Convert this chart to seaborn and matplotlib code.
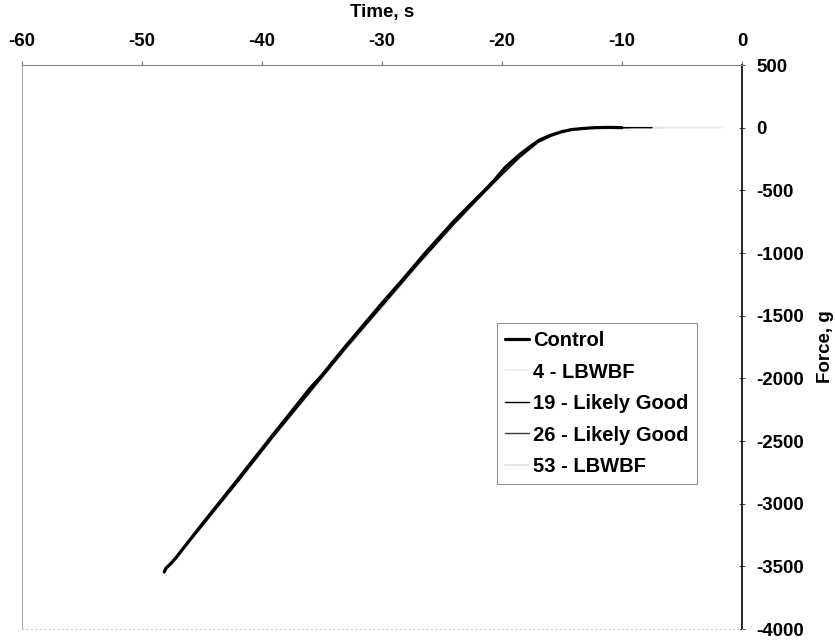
import matplotlib
matplotlib.use("Agg")
import matplotlib.pyplot as plt
import seaborn as sns
import pandas as pd

sns.set_style("white")
plt.rcParams['font.family'] = ['Liberation Sans', 'DejaVu Sans']
plt.rcParams['font.weight'] = 'bold'
plt.rcParams['text.color'] = 'black'
plt.rcParams['axes.labelcolor'] = 'black'
plt.rcParams['xtick.color'] = 'black'
plt.rcParams['ytick.color'] = 'black'

# ---- data ----
control_t = [-48.15, -48.0, -47.6, -47.2, -45.0, -42.0, -39.0, -36.0, -35.0, -34.2, -33.0, -30.0,
             -28.3, -26.4, -24.0, -22.5, -21.5, -20.6, -19.75, -18.5, -17.5, -16.9, -16.0, -15.0,
             -14.2, -13.2, -12.25, -11.0, -10.0]
control_f = [-3545, -3515, -3478, -3435, -3165, -2805, -2440, -2080, -1975, -1880, -1740, -1400,
             -1215, -1000, -745, -600, -505, -415, -318, -212, -140, -100, -62, -32,
             -15, -6, 0, 2, 0]

s4_t = [-47.6, -45.0, -42.0, -39.0, -36.0, -33.0, -30.0, -27.0, -24.0, -21.0, -19.0, -17.0,
        -15.0, -13.0, -11.0, -8.0, -5.0, -1.7]
s4_f = [-3490, -3190, -2835, -2470, -2120, -1775, -1440, -1110, -780, -470, -285, -125,
        -35, -4, 0, 0, 0, 0]

s19_t = [-47.8, -45.0, -42.0, -39.0, -36.0, -33.0, -30.0, -27.0, -24.0, -22.0, -20.0, -18.5,
         -17.0, -15.5, -14.0, -12.5, -11.0, -9.5, -7.5]
s19_f = [-3500, -3180, -2825, -2460, -2110, -1760, -1425, -1090, -770, -570, -375, -235,
         -118, -48, -12, -2, 0, 0, 0]

s26_t = [-47.5, -45.0, -42.0, -39.0, -36.0, -33.0, -30.0, -27.0, -24.0, -22.0, -20.0, -18.5,
         -17.0, -15.5, -14.0, -12.5, -11.0, -9.4]
s26_f = [-3470, -3175, -2820, -2450, -2100, -1755, -1420, -1085, -760, -560, -365, -228,
         -112, -45, -10, -1, 0, 0]

s53_t = [-47.4, -45.0, -42.0, -39.0, -36.0, -33.0, -30.0, -27.0, -24.0, -21.0, -19.0, -17.0,
         -15.0, -13.0, -11.0, -9.0, -6.5]
s53_f = [-3460, -3170, -2815, -2450, -2095, -1750, -1410, -1080, -755, -455, -275, -118,
         -30, -3, 0, 0, 0]

labels = ["Control", "4 - LBWBF", "19 - Likely Good", "26 - Likely Good", "53 - LBWBF"]
xticks = [-60, -50, -40, -30, -20, -10, 0]
yticks = [500, 0, -500, -1000, -1500, -2000, -2500, -3000, -3500, -4000]

series = [
    (s4_t, s4_f, labels[1], "#ececec", 1.2),
    (s53_t, s53_f, labels[4], "#e0e0e0", 1.2),
    (s26_t, s26_f, labels[3], "#3a3a3a", 1.0),
    (s19_t, s19_f, labels[2], "#000000", 1.0),
    (control_t, control_f, labels[0], "#000000", 2.3),
]

fig = plt.figure(figsize=(8.35, 6.41), dpi=100)
ax = fig.add_axes([22/835, 1-629/641, 720/835, 564/641])

for t, f, lab, col, lw in series:
    df = pd.DataFrame({"t": t, "f": f})
    sns.lineplot(data=df, x="t", y="f", ax=ax, color=col, linewidth=lw,
                 sort=False, estimator=None, label=lab)

ax.set_xlim(-60, 0)
ax.set_ylim(-4000, 500)
ax.set_xticks(xticks)
ax.set_yticks(yticks)
ax.set_xticklabels([str(v) for v in xticks])
ax.set_yticklabels([str(v) for v in yticks])

ax.xaxis.tick_top()
ax.yaxis.tick_right()
ax.tick_params(axis='x', direction='out', length=3, width=0.8, color='#777777',
               labelcolor='black', pad=8, labelsize=13.5)
ax.tick_params(axis='y', direction='inout', length=5, width=0.8, color='#555555',
               labelcolor='black', pad=8, labelsize=13.5)
for lab in ax.get_xticklabels() + ax.get_yticklabels():
    lab.set_fontweight('bold')

for side in ['top', 'right', 'left', 'bottom']:
    ax.spines[side].set_visible(True)
ax.spines['right'].set_color('black')
ax.spines['right'].set_linewidth(1.2)
ax.spines['top'].set_color('#888888')
ax.spines['top'].set_linewidth(0.8)
ax.spines['left'].set_color('#aaaaaa')
ax.spines['left'].set_linestyle((0, (1, 1)))
ax.spines['left'].set_linewidth(0.8)
ax.spines['bottom'].set_color('#d0d0d0')
ax.spines['bottom'].set_linestyle((0, (1, 3)))
ax.spines['bottom'].set_linewidth(0.8)

ax.set_xlabel("Time, s", fontsize=13.5, fontweight='bold', color='black')
ax.xaxis.set_label_position('top')
ax.xaxis.set_label_coords(0.5, (629-12)/564)
ax.xaxis.label.set_va('center')

ax.set_ylabel("Force, g", fontsize=13.5, fontweight='bold', color='black')
ax.yaxis.set_label_position('right')
ax.yaxis.set_label_coords((825-22)/720, 0.5)
ax.yaxis.label.set_va('center')
ax.yaxis.label.set_ha('center')
ax.yaxis.label.set_rotation(90)

# legend in original order
h, l = ax.get_legend_handles_labels()
order = [l.index(x) for x in labels]
leg = ax.legend([h[i] for i in order], [l[i] for i in order],
                loc='upper left', bbox_to_anchor=((497-22)/720, (629-323)/564),
                borderaxespad=0, frameon=True, fancybox=False, edgecolor='#777777',
                prop={'weight': 'bold', 'size': 14.5}, handlelength=1.2,
                handletextpad=0.2, borderpad=0.4, labelspacing=0.62)
leg.get_frame().set_linewidth(0.8)
for txt in leg.get_texts():
    txt.set_color('black')

fig.savefig("out.png", dpi=100, facecolor='white')
